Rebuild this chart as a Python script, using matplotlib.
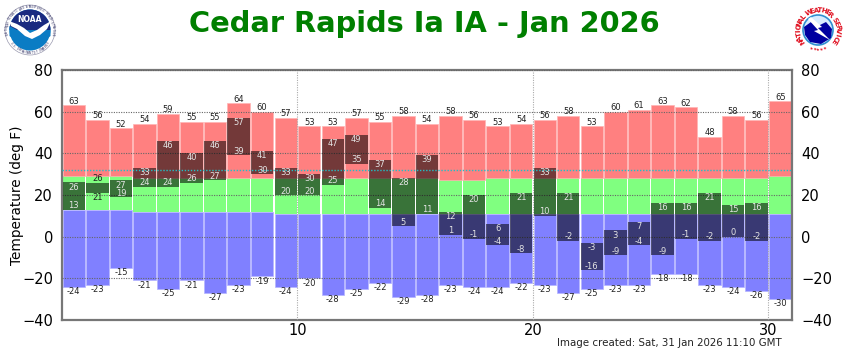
import numpy as np
import matplotlib
matplotlib.use('Agg')
import matplotlib.pyplot as plt
from matplotlib.patches import Circle, Wedge, Polygon

days = np.arange(1, 32)
rec_high = [63, 56, 52, 54, 59, 55, 55, 64, 60, 57, 53, 53, 57, 55, 58, 54,
            58, 56, 53, 54, 56, 58, 53, 60, 61, 63, 62, 48, 58, 56, 65]
rec_low = [-24, -23, -15, -21, -25, -21, -27, -23, -19, -24, -20, -28, -25, -22, -29, -28,
           -23, -24, -24, -22, -23, -27, -25, -23, -23, -18, -18, -23, -24, -26, -30]
norm_high = [29, 29, 29, 28, 28, 28, 28, 28, 28, 28, 28, 28, 28, 28, 28, 28,
             27, 27, 28, 28, 28, 28, 28, 28, 28, 28, 28, 28, 28, 28, 29]
norm_low = [13, 13, 13, 12, 12, 12, 12, 12, 12, 11, 11, 11, 11, 11, 11, 11,
            11, 11, 11, 11, 11, 11, 11, 11, 11, 11, 11, 11, 11, 11, 11]
obs_high = [26, 26, 27, 33, 46, 40, 46, 57, 41, 33, 30, 47, 49, 37, 28, 39,
            12, 20, 6, 21, 33, 21, -3, 3, 7, 16, 16, 21, 15, 16]
obs_low = [13, 21, 19, 24, 24, 26, 27, 39, 30, 20, 20, 25, 35, 14, 5, 11,
           1, -1, -4, -8, 10, -2, -16, -9, -4, -9, -1, -2, 0, -2]

rec_high = np.array(rec_high)
rec_low = np.array(rec_low)
norm_high = np.array(norm_high)
norm_low = np.array(norm_low)
obs_high = np.array(obs_high)
obs_low = np.array(obs_low)

fig = plt.figure(figsize=(8.5, 3.5), dpi=100)
ax = fig.add_axes([62 / 850, 1 - 320 / 350, 730 / 850, 250 / 350])

x = days - 0.5
w = 0.95
ax.bar(x, norm_low - rec_low, w, bottom=rec_low, color='#8080ff', edgecolor='#b4b4ff', lw=0.5, zorder=2)
ax.bar(x, norm_high - norm_low, w, bottom=norm_low, color='#80ff80', lw=0, zorder=2)
ax.bar(x, rec_high - norm_high, w, bottom=norm_high, color='#ff8080', edgecolor='#ffb4b4', lw=0.5, zorder=2)
ax.bar(x[:len(obs_high)], obs_high - obs_low, w, bottom=obs_low, color='black', alpha=0.55, lw=0, zorder=3)

ax.set_xlim(0, 31)
ax.set_ylim(-40, 80)
ax.set_yticks(np.arange(-40, 81, 20))
ax.set_xticks([10, 20, 30])
ax.tick_params(axis='both', length=0, labelsize=10.5)
ax.tick_params(axis='y', right=True, labelright=True, pad=6.5)
ax.tick_params(axis='x', pad=2.5)
ax.set_axisbelow(False)
ax.yaxis.grid(True, ls=(0, (1, 1.2)), color='#666666', lw=0.8, zorder=4)
ax.xaxis.grid(True, ls=(0, (1, 1.2)), color='#aaaaaa', lw=0.8, zorder=4)
ax.axhline(32, color='#20c0c8', ls=(0, (1, 1.2)), lw=1.0, zorder=5)
ax.set_ylabel('Temperature (deg F)', fontsize=9.8)
ax.yaxis.set_label_coords(-38 / 730, 0.5)
for s in ax.spines.values():
    s.set_color('#777777')
    s.set_linewidth(1.6)

# record labels
for d, hi, lo in zip(x, rec_high, rec_low):
    ax.text(d, hi + 2.0, str(hi), ha='center', va='center', fontsize=6, color='#222222', zorder=6)
    ax.text(d, lo - 2.3, str(lo), ha='center', va='center', fontsize=6, color='#222222', zorder=6)

# observed labels, outside the bar when it is too thin to hold both
for d, hi, lo in zip(x, obs_high, obs_low):
    if hi - lo <= 5:
        ax.text(d, hi + 1.9, str(hi), ha='center', va='center', fontsize=6, color='#222222', zorder=6)
        ax.text(d, lo - 2.4, str(lo), ha='center', va='center', fontsize=6, color='#222222', zorder=6)
    else:
        ax.text(d, hi - 2.2, str(hi), ha='center', va='center', fontsize=6, color='#e4e4e4', zorder=6)
        ax.text(d, lo + 1.9, str(lo), ha='center', va='center', fontsize=6, color='#e4e4e4', zorder=6)

fig.text(424 / 850, 1 - 24 / 350, 'Cedar Rapids Ia IA - Jan 2026', ha='center', va='center',
         fontsize=20.8, fontweight='bold', color='#007f00')
fig.text(782 / 850, 1 - 342.5 / 350, 'Image created: Sat, 31 Jan 2026 11:10 GMT', ha='right', va='center',
         fontsize=7.4, color='#222222')

# logos, drawn in pixel coordinates
logo = fig.add_axes([0, 0, 1, 1], zorder=10)
logo.set_xlim(0, 850)
logo.set_ylim(350, 0)
logo.axis('off')


def ring_text(txt, cx, cy, r, start, end, size, color, bottom=False, weight='normal'):
    angles = np.linspace(start, end, len(txt))
    for ch, a in zip(txt, angles):
        t = np.radians(a)
        rot = a + 90 if bottom else a - 90
        logo.text(cx + r * np.cos(t), cy - r * np.sin(t), ch, rotation=rot, ha='center', va='center',
                  fontsize=size, color=color, fontweight=weight)


# NOAA
logo.add_patch(Circle((30, 30), 25, fc='white', ec='#9a9ab0', lw=0.5))
logo.add_patch(Circle((30, 30), 20.5, fc='#0a7cc4', ec='none'))
logo.add_patch(Wedge((30, 30), 20.5, 180, 360, fc='#1a2a80', ec='none'))
logo.add_patch(Polygon([[9, 21], [17, 24], [24, 28], [30, 33], [37, 30], [44, 25], [51, 21],
                        [47, 29], [40, 35], [32, 39], [25, 36], [17, 29], [11, 26]],
                       fc='white', ec='none'))
logo.add_patch(Polygon([[9.5, 26], [17, 30], [25, 37], [32, 40], [41, 36], [48, 30], [50.5, 30],
                        [50.5, 36], [30, 50], [9.5, 36]], fc='#0a7cc4', ec='none'))
logo.text(30, 19.5, 'NOAA', ha='center', va='center', fontsize=5.5, fontweight='bold', color='white')
ring_text('NATIONAL OCEANIC AND ATMOSPHERIC ADMINISTRATION', 30, 30, 23, 190, -10, 1.9, '#333366')
ring_text('U.S. DEPARTMENT OF COMMERCE', 30, 30, 23, 215, 325, 1.9, '#333366', bottom=True)

# NWS
logo.add_patch(Circle((818, 30), 15, fc='#d8ecff', ec='#3090d0', lw=1.2))
logo.add_patch(Polygon([[804, 27], [811, 22], [818, 26], [826, 22], [832, 29], [831, 38], [821, 44],
                        [810, 42], [805, 35]], fc='#0000a0', ec='none'))
logo.add_patch(Polygon([[811, 17], [822, 27], [818, 28], [830, 40], [814, 31], [818, 30], [808, 19]],
                       fc='white', ec='none'))
ring_text('NATIONAL WEATHER SERVICE', 818, 30, 19.5, 215, -35, 5, '#e01020', weight='bold')
ring_text('★★★★★', 818, 30, 19.5, 250, 290, 3, '#e01020', bottom=True)

fig.savefig('out.png', dpi=100)
